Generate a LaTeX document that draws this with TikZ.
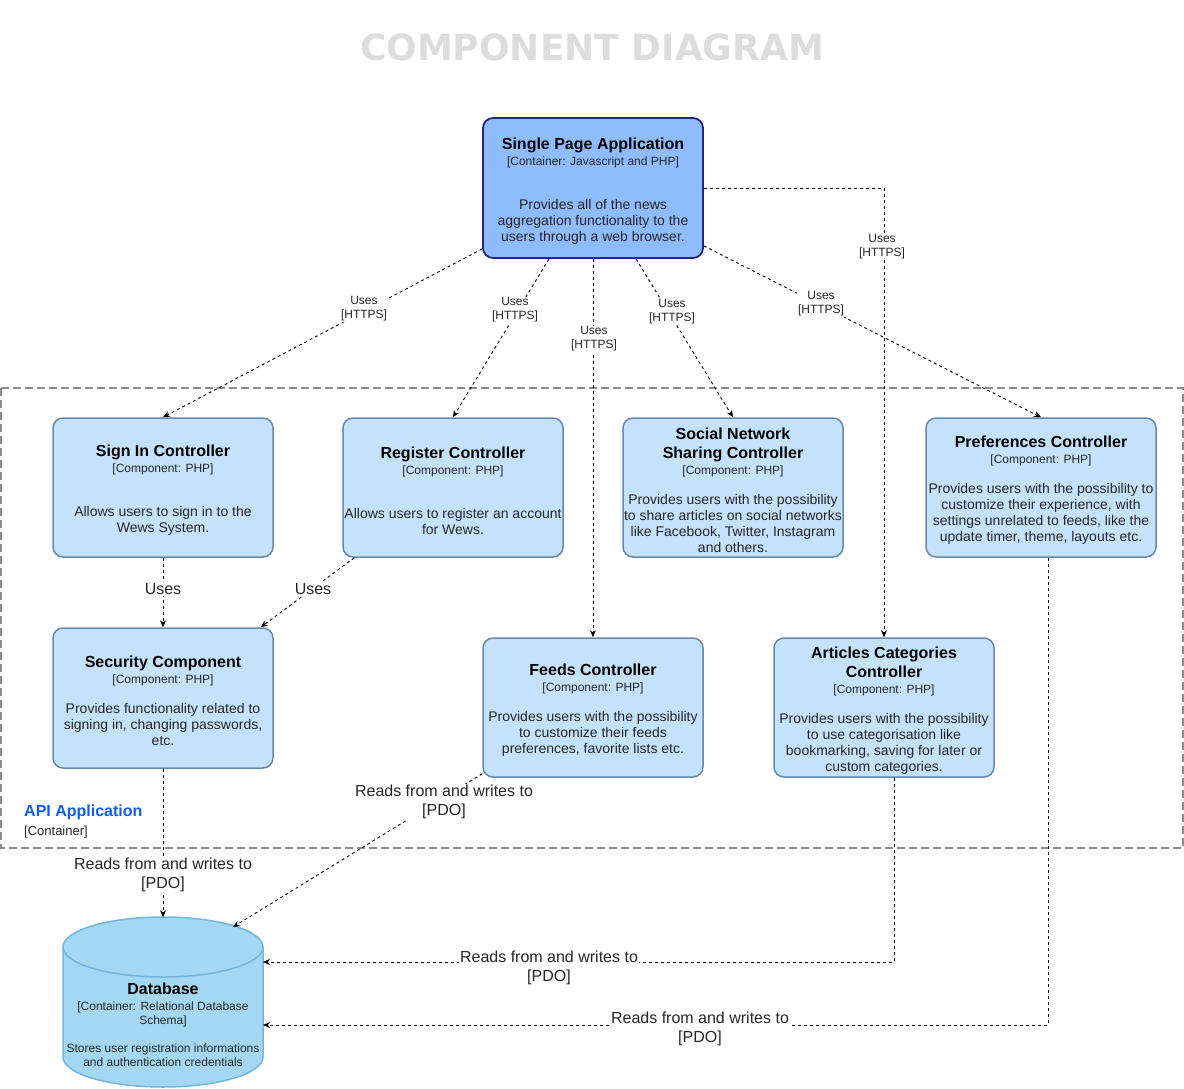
\documentclass[tikz,border=0pt]{standalone}
\usepackage{fontspec}
\setmainfont{Liberation Sans}
\newfontfamily\titlefont{DejaVu Sans}
\usetikzlibrary{arrows.meta}
\definecolor{compfill}{HTML}{C5E2FC}
\definecolor{compstroke}{HTML}{6A88AE}
\definecolor{spafill}{HTML}{8FBBFF}
\definecolor{spastroke}{HTML}{262680}
\definecolor{dbfill}{HTML}{A4D8F2}
\definecolor{dbstroke}{HTML}{73B5DD}
\definecolor{txt}{HTML}{262626}
\definecolor{apiblue}{HTML}{0F5CF2}
\definecolor{boundgray}{HTML}{8C8C8C}
\definecolor{titlegray}{HTML}{DDDDDD}
\newcommand\tstrut{\rule{0pt}{17.5pt}}
\newcommand\ctitle[1]{{\fontsize{16}{19}\selectfont\bfseries\color{black}#1}}
\newcommand\ctech[1]{{\fontsize{12}{14}\selectfont #1}}
\newcommand\cdesc[1]{{\fontsize{14}{16}\selectfont #1}}
\begin{document}
\begin{tikzpicture}[x=1pt,y=-1pt,
  comp/.style={draw=compstroke, fill=compfill, line width=1.5pt, rounded corners=10pt,
    align=center, minimum width=220pt, minimum height=140pt, inner sep=0pt, text=txt,
    font=\fontsize{12}{16}\selectfont},
  spabox/.style={comp, draw=spastroke, fill=spafill, line width=1.8pt},
  conn/.style={draw=black, line width=0.9pt, dash pattern=on 3pt off 3pt,
    -{Stealth[length=7pt,width=6pt]}},
  smalllbl/.style={fill=white, inner sep=1pt, align=center, text=txt,
    font=\fontsize{12}{14}\selectfont},
  biglbl/.style={fill=white, inner sep=1pt, align=center, text=txt,
    font=\fontsize{16}{19}\selectfont}
]
\useasboundingbox (0,0) rectangle (1184,1089);

% title
\node[text=titlegray, font=\titlefont\bfseries\fontsize{36}{40}\selectfont] (title) at (592,47) {COMPONENT DIAGRAM};

% boundary
\draw[boundgray, line width=1.5pt, dash pattern=on 8pt off 4pt] (1,388) rectangle (1183,848);
\node[anchor=west, text=apiblue, font=\fontsize{16}{19}\selectfont\bfseries, inner sep=0pt] (apilbl) at (24,812) {API Application};
\node[anchor=west, text=txt, font=\fontsize{13}{15}\selectfont, inner sep=0pt] (apitech) at (24,832) {[Container]};

% SPA
\node[spabox] (spa) at (593,188) {\tstrut\ctitle{Single Page Application}\\ \ctech{[Container: Javascript and PHP]}\\[28pt]
  \cdesc{Provides all of the news}\\ \cdesc{aggregation functionality to the}\\ \cdesc{users through a web browser.}};

% components
\node[comp, minimum height=139pt] (signin) at (163,487.5) {\tstrut\ctitle{Sign In Controller}\\ \ctech{[Component: PHP]}\\[28pt]
  \cdesc{Allows users to sign in to the}\\ \cdesc{Wews System.}};
\node[comp, minimum height=139pt] (register) at (453,487.5) {\tstrut\ctitle{Register Controller}\\ \ctech{[Component: PHP]}\\[28pt]
  \cdesc{Allows users to register an account}\\ \cdesc{for Wews.}};
\node[comp, minimum height=139pt] (social) at (733,487.5) {\tstrut\ctitle{Social Network}\\[3pt] \ctitle{Sharing Controller}\\ \ctech{[Component: PHP]}\\[14pt]
  \cdesc{Provides users with the possibility}\\ \cdesc{to share articles on social networks}\\ \cdesc{like Facebook, Twitter, Instagram}\\ \cdesc{and others.}};
\node[comp, minimum height=139pt, minimum width=230pt] (prefs) at (1041,487.5) {\tstrut\ctitle{Preferences Controller}\\ \ctech{[Component: PHP]}\\[14pt]
  \cdesc{Provides users with the possibility to}\\ \cdesc{customize their experience, with}\\ \cdesc{settings unrelated to feeds, like the}\\ \cdesc{update timer, theme, layouts etc.}};
\node[comp] (security) at (163,698) {\tstrut\ctitle{Security Component}\\ \ctech{[Component: PHP]}\\[14pt]
  \cdesc{Provides functionality related to}\\ \cdesc{signing in, changing passwords,}\\ \cdesc{etc.}};
\node[comp, minimum height=139pt] (feeds) at (593,707.5) {\tstrut\ctitle{Feeds Controller}\\ \ctech{[Component: PHP]}\\[14pt]
  \cdesc{Provides users with the possibility}\\ \cdesc{to customize their feeds}\\ \cdesc{preferences, favorite lists etc.}};
\node[comp, minimum height=139pt] (articles) at (884,707.5) {\tstrut\ctitle{Articles Categories}\\[3pt] \ctitle{Controller}\\ \ctech{[Component: PHP]}\\[14pt]
  \cdesc{Provides users with the possibility}\\ \cdesc{to use categorisation like}\\ \cdesc{bookmarking, saving for later or}\\ \cdesc{custom categories.}};

% database cylinder
\node[minimum width=200pt, minimum height=170pt, inner sep=0pt] (db) at (163,1002.5) {};
\draw[draw=dbstroke, fill=dbfill, line width=1.5pt]
  (63,947) -- (63,1057) arc[start angle=180, end angle=360, x radius=100pt, y radius=30pt]
  -- (263,947) arc[start angle=0, end angle=180, x radius=100pt, y radius=30pt] -- cycle;
\draw[draw=dbstroke, line width=1.5pt] (63,947) arc[start angle=180, end angle=360, x radius=100pt, y radius=30pt];
\node[align=center, inner sep=0pt, text=txt, font=\fontsize{12}{14}\selectfont] (dbtext) at (163,1025)
  {\ctitle{Database}\\[2pt] \ctech{[Container: Relational Database}\\ \ctech{Schema]}\\[14pt]
   {Stores user registration informations}\\ {and authentication credentials}};
\coordinate (dba) at (233,927);
\coordinate (dbb) at (263,962);
\coordinate (dbc) at (263,1025);

% connectors
\draw[conn] ([yshift=10pt]spa.south west) -- (signin.north);
\draw[conn] ([xshift=-44pt]spa.south) -- (register.north);
\draw[conn] (spa.south) -- (feeds.north);
\draw[conn] ([xshift=43pt]spa.south) -- (social.north);
\draw[conn] ([yshift=13pt]spa.south east) -- (prefs.north);
\draw[conn] (spa.east) -| (articles.north);
\draw[conn] (signin.south) -- (security.north);
\draw[conn] ([xshift=12pt]register.south west) -- ([xshift=-13pt]security.north east);
\draw[conn] (security.south) -- (db.north);
\draw[conn] ([yshift=4pt]feeds.south west) -- (dba);
\draw[conn] ([xshift=10pt]articles.south) |- (dbb);
\draw[conn] ([xshift=7pt]prefs.south) |- (dbc);

% connector labels
\node[smalllbl] (l1) at (364,309) {Uses\\ {[HTTPS]}};
\node[smalllbl] (l2) at (515,310) {Uses\\ {[HTTPS]}};
\node[smalllbl] (l3) at (594,339) {Uses\\ {[HTTPS]}};
\node[smalllbl] (l4) at (672,312) {Uses\\ {[HTTPS]}};
\node[smalllbl] (l5) at (821,304) {Uses\\ {[HTTPS]}};
\node[smalllbl] (l6) at (882,247) {Uses\\ {[HTTPS]}};
\node[biglbl] (l7) at (163,589) {Uses};
\node[biglbl] (l8) at (313,589) {Uses};
\node[biglbl] (l9) at (163,875) {Reads from and writes to\\ {[PDO]}};
\node[biglbl] (l10) at (444,802) {Reads from and writes to\\ {[PDO]}};
\node[biglbl] (l11) at (549,968) {Reads from and writes to\\ {[PDO]}};
\node[biglbl] (l12) at (700,1029) {Reads from and writes to\\ {[PDO]}};
\end{tikzpicture}
\end{document}
